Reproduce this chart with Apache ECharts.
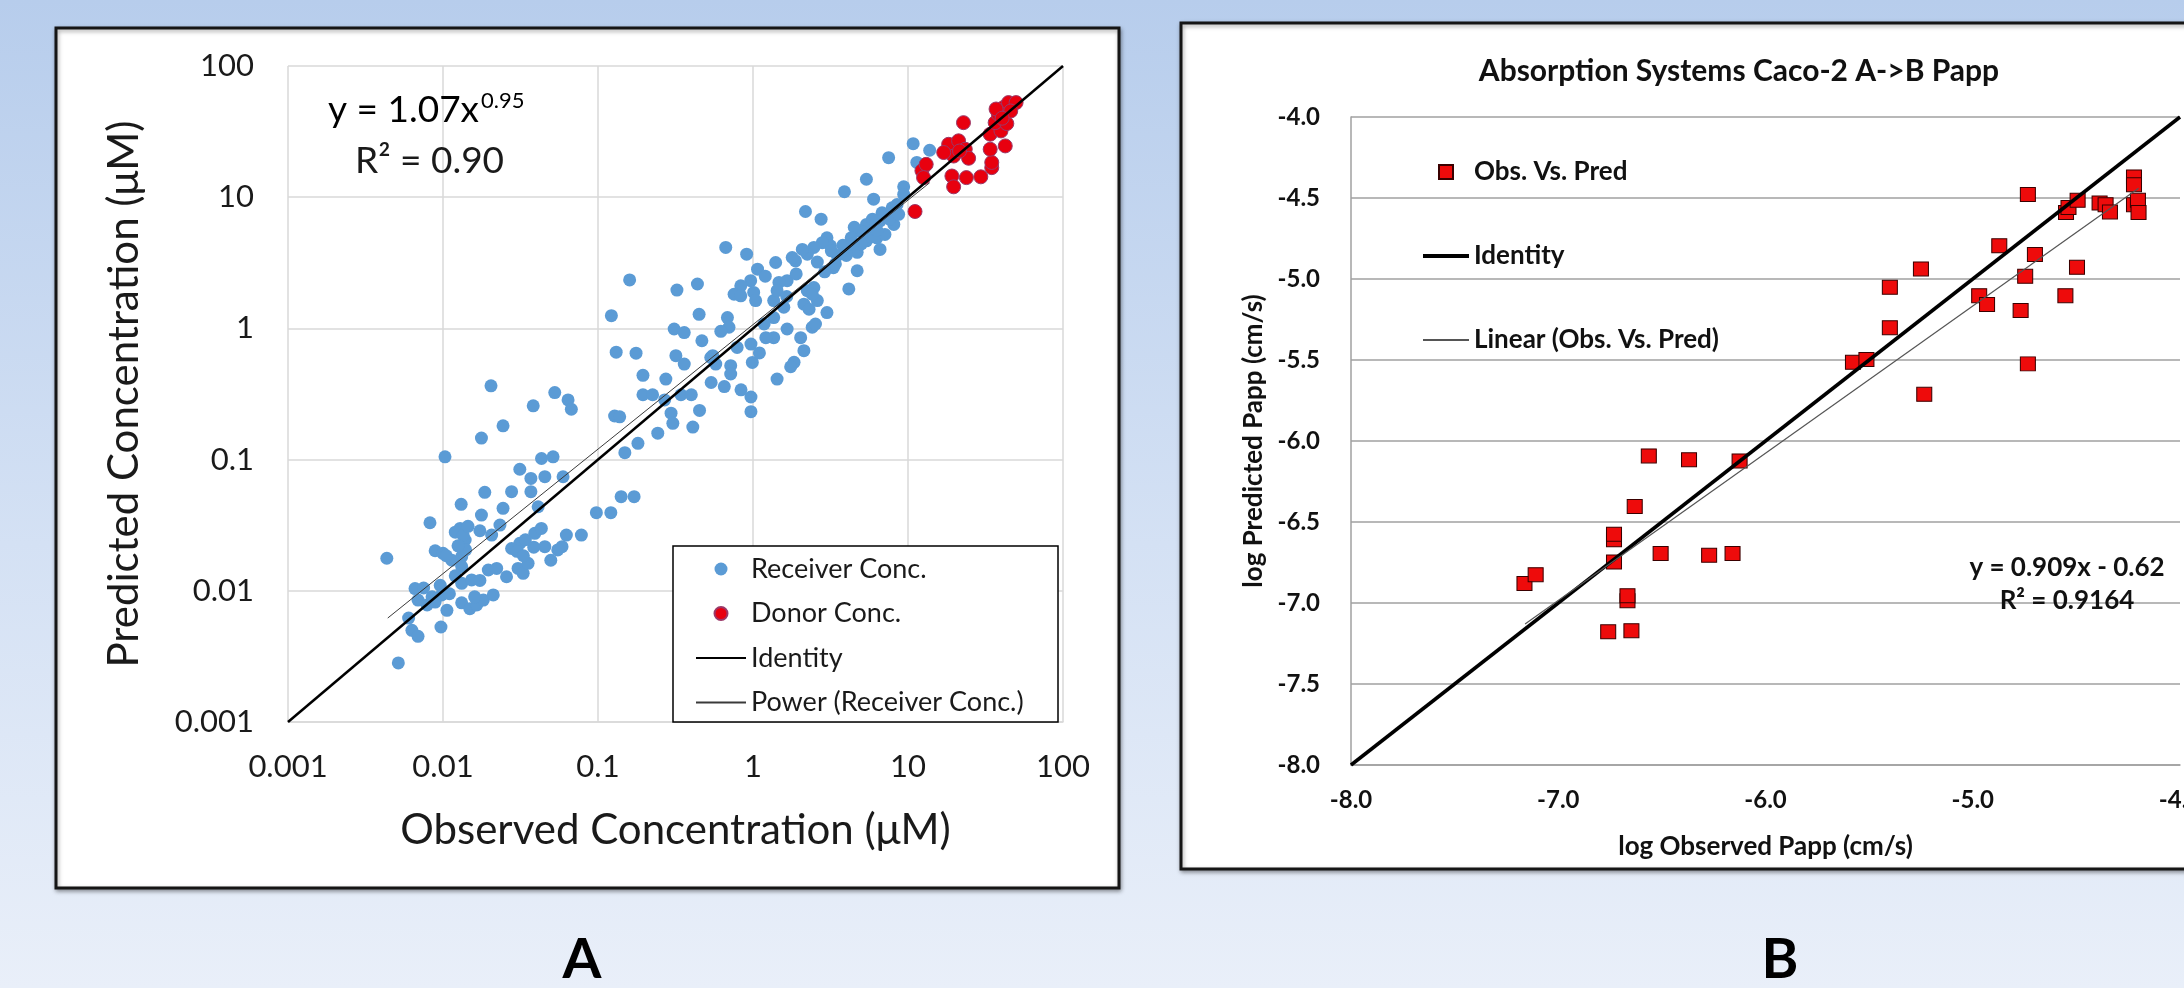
<!DOCTYPE html>
<html><head><meta charset="utf-8">
<script src="https://cdn.jsdelivr.net/npm/echarts@6/dist/echarts.min.js"></script>
<style>html,body{margin:0;padding:0;width:2184px;height:988px;overflow:hidden}#c{width:2184px;height:988px}</style>
</head><body><div id="c"></div>
<script>
// ---------- Panel A : observed vs predicted concentration (uM), log-log ----------
const receiverConc = [
[0.00434,0.0177],[0.00515,0.00282],[0.0103,0.105],[0.0204,0.365],[0.0177,0.146],[0.0244,0.181],[0.0382,0.257],[0.0526,0.324],[0.0641,0.285],[0.0673,0.242],
[0.00824,0.033],[0.0131,0.0456],[0.0186,0.0563],[0.0177,0.0378],[0.0244,0.0425],[0.0277,0.057],[0.0313,0.0844],[0.0369,0.0719],[0.0369,0.057],[0.0454,0.0741],
[0.0432,0.102],[0.0513,0.105],[0.0595,0.074],[0.0411,0.0437],[0.0233,0.0317],[0.0206,0.0266],[0.0173,0.0287],[0.0129,0.0299],[0.0139,0.0244],[0.0089,0.0202],
[0.0100,0.0193],[0.0114,0.0171],[0.0132,0.0182],[0.0132,0.0153],[0.0066,0.0104],[0.0069,0.0085],[0.0079,0.0078],[0.0089,0.0082],[0.0096,0.0110],[0.0098,0.0093],
[0.0106,0.0071],[0.0060,0.0062],[0.0063,0.0050],[0.0069,0.0045],[0.0097,0.0053],[0.0132,0.0114],[0.0132,0.0081],[0.0149,0.0073],[0.0165,0.0078],[0.0182,0.0085],
[0.0211,0.0093],[0.0153,0.0121],[0.0173,0.0120],[0.0196,0.0144],[0.0222,0.0148],[0.0257,0.0128],[0.0305,0.0148],[0.0329,0.0136],[0.0354,0.0162],[0.0277,0.0210],
[0.0313,0.0230],[0.0391,0.0274],[0.0431,0.0299],[0.0454,0.0217],[0.0496,0.0171],[0.0586,0.0217],[0.0625,0.0266],[0.0781,0.0266],[0.0976,0.0394],[0.121,0.0394],
[0.141,0.0522],[0.171,0.0522],[0.149,0.113],[0.181,0.133],[0.243,0.159],[0.128,0.215],[0.138,0.212],[0.195,0.312],[0.225,0.312],[0.296,0.226],
[0.304,0.189],[0.409,0.177],[0.452,0.237],[0.343,0.312],[0.40,0.312],[0.269,0.285],[0.537,0.387],[0.653,0.36],[0.837,0.34],[0.97,0.30],
[0.97,0.232],[0.0120,0.0280],[0.0135,0.0265],[0.0140,0.0205],[0.0125,0.0220],[0.0105,0.0185],[0.0075,0.0105],[0.0085,0.0090],[0.0110,0.0095],[0.0120,0.0130],
[0.0160,0.0090],[0.0300,0.0200],[0.0330,0.0185],[0.0385,0.0215],[0.0340,0.0245],[0.055,0.0205],[0.0145,0.0310],
[10.8,25.6],[13.8,22.8],[11.4,18.4],[7.5,20.0],[5.39,13.7],[3.89,11.0],[9.38,12.0],[9.38,10.5],[6.0,9.66],[2.18,7.78],
[2.75,6.80],[7.9,8.3],[7.3,7.0],[8.1,6.2],[6.6,6.6],[6.0,5.9],[5.4,6.2],[4.9,5.5],[4.5,5.9],[4.3,4.9],
[4.15,4.1],[4.7,3.8],[5.4,4.65],[6.3,4.9],[6.6,4.0],[7.1,5.2],[4.7,2.75],[4.15,2.0],[3.0,4.9],[3.16,4.26],
[3.3,2.9],[2.8,4.5],[2.47,4.14],[2.24,3.68],[2.08,4.0],[1.88,3.27],[1.79,3.47],[1.40,3.18],[1.07,2.83],[0.91,3.68],
[0.667,4.14],[1.66,2.31],[1.47,2.24],[0.966,2.31],[0.834,2.11],[0.755,1.82],[0.834,1.77],[1.01,1.88],[1.04,1.63],[1.36,1.63],
[1.43,1.94],[1.58,1.45],[2.24,1.94],[2.47,2.05],[2.6,1.63],[2.41,1.82],[2.13,1.53],[2.3,1.40],[3.0,1.32],[1.36,1.21],
[1.18,1.08],[1.66,0.99],[1.36,0.85],[0.684,1.21],[0.70,1.02],[0.449,1.28],[0.438,2.18],[0.323,1.96],[0.31,0.99],[0.36,0.93],
[0.468,0.805],[0.534,0.60],[0.318,0.62],[0.36,0.535],[0.575,0.535],[0.718,0.52],[0.718,0.449],[0.79,0.716],[0.97,0.76],[0.99,0.55],
[1.21,0.85],[2.03,0.85],[2.41,1.02],[2.53,1.08],[2.13,0.676],[1.84,0.551],[1.75,0.51],[1.43,0.411],[0.274,0.411],
[0.122,1.25],[0.131,0.659],[0.176,0.647],[0.160,2.34],[0.195,0.439],
[3.5,3.6],[3.8,4.3],[5.0,4.4],[5.8,5.0],[6.8,7.6],[7.6,6.8],[8.5,8.8],[5.2,5.4],[4.0,3.6],[3.4,3.1],
[2.9,2.7],[2.6,3.2],[5.9,6.8],[6.3,5.6],[8.7,7.4],[4.4,4.4],[3.2,3.9],[1.9,2.6],[1.2,2.5],[1.65,1.75],
[0.62,0.95],[0.55,0.62],[1.1,0.65]
];
const donorConc = [
[11.1,7.78],[12.3,15.9],[13.1,17.8],[12.6,14.1],[22.8,37.0],[18.3,25.3],[19.7,20.6],[21.2,26.9],[23.4,23.2],[24.6,19.8],
[19.2,14.5],[19.7,12.0],[23.8,14.1],[29.5,14.3],[34.7,16.8],[34.7,18.4],[33.9,23.2],[42.4,24.6],[33.9,30.2],[39.8,32.0],
[36.5,37.0],[43.4,36.4],[38.3,42.9],[41.3,48.2],[44.5,52.6],[49.8,52.6],[46.0,45.4],[37.0,47.0],[17.0,21.9],[21.5,22.5],[40.5,40.0]
];
const identityA = [[0.001,0.001],[100,100]];
const powerFitA = [[0.0044,0.0062],[13.8,12.9]];
const tickLabelsA = ['0.001','0.01','0.1','1','10','100'];

// ---------- Panel B : log Papp observed vs predicted ----------
const pappObsPred = [
[-7.163,-6.880],[-7.109,-6.825],[-6.759,-7.178],[-6.647,-7.171],[-6.731,-6.747],[-6.731,-6.610],[-6.731,-6.575],[-6.666,-6.986],[-6.666,-6.955],[-6.631,-6.404],
[-6.563,-6.092],[-6.506,-6.695],[-6.369,-6.116],[-6.272,-6.705],[-6.159,-6.695],[-6.125,-6.123],[-5.578,-5.514],[-5.513,-5.497],[-5.400,-5.051],[-5.400,-5.301],
[-5.250,-4.938],[-5.234,-5.712],[-4.969,-5.103],[-4.931,-5.158],[-4.872,-4.795],[-4.769,-5.195],[-4.747,-4.983],[-4.734,-4.479],[-4.734,-5.524],[-4.700,-4.849],
[-4.553,-5.103],[-4.550,-4.589],[-4.538,-4.558],[-4.494,-4.514],[-4.497,-4.928],[-4.388,-4.531],[-4.359,-4.541],[-4.338,-4.586],[-4.222,-4.370],[-4.222,-4.418],
[-4.222,-4.541],[-4.203,-4.514],[-4.200,-4.589]
];
const identityB = [[-8,-8],[-4,-4]];
const linearFitB = [[-7.16,-7.13],[-4.20,-4.44]];

const FONT = 'Lato';
const SQUARE = 'path://M0 0H10V10H0Z';
const HIDE_DOT = {opacity:0};
const chart = echarts.init(document.getElementById('c'), null, {renderer:'canvas', width:2184, height:988});

const option = {
  animation: false,
  textStyle: {fontFamily: FONT},
  backgroundColor: {type:'linear', x:0, y:0, x2:0, y2:1, colorStops:[
    {offset:0, color:'#b7cdec'}, {offset:0.55, color:'#d4e1f4'}, {offset:1, color:'#e9eff9'}]},
  graphic: [
    {type:'rect', z:-5, shape:{x:56, y:28, width:1063, height:860},
     style:{fill:'#ffffff', stroke:'#151515', lineWidth:3, shadowBlur:4, shadowColor:'rgba(0,0,0,0.35)', shadowOffsetX:1, shadowOffsetY:2}},
    {type:'rect', z:-5, shape:{x:1181, y:23, width:1100, height:846},
     style:{fill:'#ffffff', stroke:'#151515', lineWidth:3, shadowBlur:4, shadowColor:'rgba(0,0,0,0.35)', shadowOffsetX:1, shadowOffsetY:2}},
    {type:'rect', z:3, shape:{x:673, y:546, width:385, height:176},
     style:{fill:'#ffffff', stroke:'#000000', lineWidth:1.5}},
    {type:'text', z:5, x:328, y:110, style:{
      text:'{b|y = 1.07x}{s|0.95}', align:'left', verticalAlign:'middle',
      rich:{
        b:{fontFamily:FONT, fontSize:37, color:'#1a1a1a', lineHeight:40},
        s:{fontFamily:FONT, fontSize:22, color:'#1a1a1a', lineHeight:22, verticalAlign:'top', padding:[0,0,0,2]}
      }}},
    {type:'text', z:5, x:355, y:161, style:{text:'R\u00B2 = 0.90', fontFamily:FONT, fontSize:37, fill:'#1a1a1a', align:'left', verticalAlign:'middle'}},
    {type:'text', z:5, x:1739, y:71, style:{text:'Absorption Systems Caco-2 A->B Papp', fontFamily:FONT, fontWeight:'bold', fontSize:30, fill:'#111', align:'center', verticalAlign:'middle'}},
    {type:'text', z:5, x:2067, y:568, style:{text:'y = 0.909x - 0.62', fontFamily:FONT, fontWeight:'bold', fontSize:26, fill:'#111', align:'center', verticalAlign:'middle'}},
    {type:'text', z:5, x:2067, y:601, style:{text:'R\u00B2 = 0.9164', fontFamily:FONT, fontWeight:'bold', fontSize:26, fill:'#111', align:'center', verticalAlign:'middle'}},
    {type:'text', z:5, x:582, y:960, style:{text:'A', fontFamily:FONT, fontWeight:'bold', fontSize:56, fill:'#000', align:'center', verticalAlign:'middle'}},
    {type:'text', z:5, x:1780, y:960, style:{text:'B', fontFamily:FONT, fontWeight:'bold', fontSize:56, fill:'#000', align:'center', verticalAlign:'middle'}}
  ],
  legend: [
    {left:690, top:549, orient:'vertical', itemWidth:50, itemHeight:13, itemGap:14.5, selectedMode:false,
     textStyle:{fontFamily:FONT, fontSize:27, color:'#1a1a1a', lineHeight:30},
     data:['Receiver Conc.','Donor Conc.',
       {name:'Identity', itemStyle:HIDE_DOT},
       {name:'Power (Receiver Conc.)', itemStyle:HIDE_DOT}]},
    {left:1416, top:152, orient:'vertical', itemWidth:46, itemHeight:14, itemGap:54, selectedMode:false,
     textStyle:{fontFamily:FONT, fontSize:26, fontWeight:'bold', color:'#111', lineHeight:30},
     data:[{name:'Obs. Vs. Pred', icon:SQUARE},
       {name:'Identity', lineStyle:{width:4, color:'#000'}, itemStyle:HIDE_DOT},
       {name:'Linear (Obs. Vs. Pred)', itemStyle:HIDE_DOT}]}
  ],
  grid: [
    {left:288, top:66, width:775, height:656, outerBoundsMode:'none', containLabel:false},
    {left:1351, top:117, width:829, height:648, outerBoundsMode:'none', containLabel:false}
  ],
  xAxis: [
    {gridIndex:0, type:'log', logBase:10, min:0.001, max:100,
     name:'Observed Concentration (\u03BCM)', nameLocation:'middle', nameGap:87,
     nameTextStyle:{fontFamily:FONT, fontSize:42, color:'#1a1a1a'},
     axisLine:{show:true, lineStyle:{color:'#d9d9d9', width:1.5}}, axisTick:{show:false},
     splitLine:{show:true, lineStyle:{color:'#d9d9d9', width:1.5}}, minorTick:{show:false},
     axisLabel:{margin:29, fontFamily:FONT, fontSize:31, color:'#1a1a1a', showMinLabel:true, showMaxLabel:true,
       formatter: v => tickLabelsA[Math.round(Math.log10(v)) + 3]}},
    {gridIndex:1, type:'value', min:-8, max:-4, interval:1,
     name:'log Observed Papp (cm/s)', nameLocation:'middle', nameGap:69,
     nameTextStyle:{fontFamily:FONT, fontSize:26, fontWeight:'bold', color:'#111'},
     axisLine:{show:true, lineStyle:{color:'#a0a0a0', width:1.5}}, axisTick:{show:false},
     splitLine:{show:false},
     axisLabel:{margin:23, fontFamily:FONT, fontSize:24, fontWeight:'bold', color:'#111', showMinLabel:true, showMaxLabel:true,
       formatter: v => v.toFixed(1)}}
  ],
  yAxis: [
    {gridIndex:0, type:'log', logBase:10, min:0.001, max:100,
     name:'Predicted Concentration (\u03BCM)', nameLocation:'middle', nameGap:143,
     nameTextStyle:{fontFamily:FONT, fontSize:42, color:'#1a1a1a'},
     axisLine:{show:false}, axisTick:{show:false},
     splitLine:{show:true, lineStyle:{color:'#d9d9d9', width:1.5}}, minorTick:{show:false},
     axisLabel:{margin:34, fontFamily:FONT, fontSize:31, color:'#1a1a1a', showMinLabel:true, showMaxLabel:true,
       formatter: v => tickLabelsA[Math.round(Math.log10(v)) + 3]}},
    {gridIndex:1, type:'value', min:-8, max:-4, interval:0.5,
     name:'log Predicted Papp (cm/s)', nameLocation:'middle', nameGap:84,
     nameTextStyle:{fontFamily:FONT, fontSize:26, fontWeight:'bold', color:'#111'},
     axisLine:{show:true, lineStyle:{color:'#a0a0a0', width:1.5}}, axisTick:{show:false},
     splitLine:{show:true, lineStyle:{color:'#a0a0a0', width:1.5}},
     axisLabel:{margin:31, fontFamily:FONT, fontSize:24, fontWeight:'bold', color:'#111', showMinLabel:true, showMaxLabel:true,
       formatter: v => v.toFixed(1)}}
  ],
  series: [
    {name:'Receiver Conc.', type:'scatter', xAxisIndex:0, yAxisIndex:0, data:receiverConc, symbol:'circle', symbolSize:13, z:2,
     itemStyle:{color:'#5b9bd5', opacity:1}},
    {name:'Donor Conc.', type:'scatter', xAxisIndex:0, yAxisIndex:0, data:donorConc, symbol:'circle', symbolSize:14, z:3,
     itemStyle:{color:'#e8000f', borderColor:'#9a3868', borderWidth:1, opacity:1}},
    {name:'Identity', type:'line', xAxisIndex:0, yAxisIndex:0, data:identityA, symbol:'none', z:4,
     lineStyle:{color:'#000', width:2.5}, itemStyle:{color:'#000'}},
    {name:'Power (Receiver Conc.)', type:'line', xAxisIndex:0, yAxisIndex:0, data:powerFitA, symbol:'none', z:4,
     lineStyle:{color:'#3a3a3a', width:1}, itemStyle:{color:'#3a3a3a'}},
    {name:'Obs. Vs. Pred', type:'scatter', xAxisIndex:1, yAxisIndex:1, data:pappObsPred, symbol:'rect', symbolSize:[15,14], z:3,
     itemStyle:{color:'#ee0b0b', borderColor:'#3a0000', borderWidth:1, opacity:1}},
    {name:'Identity', type:'line', xAxisIndex:1, yAxisIndex:1, data:identityB, symbol:'none', z:4,
     lineStyle:{color:'#000', width:3.5}, itemStyle:{color:'#000'}},
    {name:'Linear (Obs. Vs. Pred)', type:'line', xAxisIndex:1, yAxisIndex:1, data:linearFitB, symbol:'none', z:4,
     lineStyle:{color:'#555', width:1.2}, itemStyle:{color:'#555'}}
  ]
};
chart.setOption(option);
</script>
</body></html>
